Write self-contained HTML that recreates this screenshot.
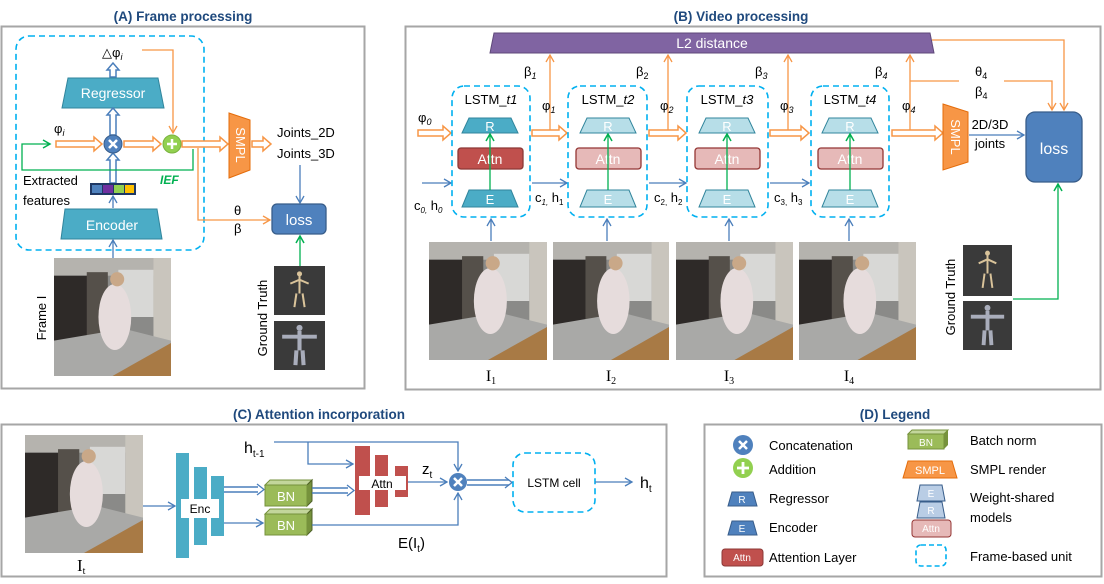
<!DOCTYPE html>
<html><head><meta charset="utf-8"><style>
html,body{margin:0;padding:0;background:#fff;}
svg{display:block;font-family:"Liberation Sans",sans-serif;}
.t{font-size:13px;fill:#000;}
.ti{font-size:13.5px;font-weight:bold;fill:#1f497d;text-anchor:middle;}
.w{fill:#fff;text-anchor:middle;}
</style></head><body>
<svg width="1104" height="584" viewBox="0 0 1104 584" xmlns="http://www.w3.org/2000/svg">
<defs>
<marker id="mb" markerWidth="10" markerHeight="10" refX="8" refY="5" orient="auto" markerUnits="userSpaceOnUse"><path d="M1,1 L8,5 L1,9" fill="none" stroke="#4a7ebb" stroke-width="1.3"/></marker>
<marker id="mo" markerWidth="10" markerHeight="10" refX="8" refY="5" orient="auto" markerUnits="userSpaceOnUse"><path d="M1,1 L8,5 L1,9" fill="none" stroke="#f79646" stroke-width="1.3"/></marker>
<marker id="mg" markerWidth="10" markerHeight="10" refX="8" refY="5" orient="auto" markerUnits="userSpaceOnUse"><path d="M1,1 L8,5 L1,9" fill="none" stroke="#00b050" stroke-width="1.5"/></marker>
<symbol id="img" viewBox="0 0 100 100" preserveAspectRatio="none">
<rect width="100" height="100" fill="#8a8a88"/>
<rect x="0" y="0" width="100" height="15" fill="#b5b3ae"/>
<rect x="0" y="15" width="30" height="55" fill="#2e2a28"/>
<rect x="28" y="12" width="18" height="60" fill="#55504a"/>
<rect x="55" y="10" width="30" height="40" fill="#d8d8d6"/>
<rect x="85" y="0" width="15" height="75" fill="#c9c5bd"/>
<polygon points="0,70 60,60 100,70 100,100 0,100" fill="#a9a9a7"/>
<polygon points="50,100 100,72 100,100" fill="#a87a45"/>
<ellipse cx="52" cy="50" rx="14" ry="28" fill="#e6dcdc"/>
<circle cx="54" cy="18" r="6" fill="#c9a888"/>
</symbol>
<symbol id="gt1" viewBox="0 0 50 50" preserveAspectRatio="none">
<rect width="50" height="50" fill="#3a3a3a"/>
<path d="M25,10 L25,28 M16,18 L25,14 L34,18 M22,28 L20,42 M28,28 L30,42" stroke="#d9c39a" stroke-width="2" fill="none"/>
<circle cx="25" cy="8" r="2.5" fill="#d9c39a"/>
</symbol>
<symbol id="gt2" viewBox="0 0 50 50" preserveAspectRatio="none">
<rect width="50" height="50" fill="#3a3a3a"/>
<path d="M25,10 L25,30 M8,16 L42,16 M22,30 L21,45 M28,30 L29,45" stroke="#a9adbb" stroke-width="4" fill="none"/>
<circle cx="25" cy="7" r="3" fill="#a9adbb"/>
</symbol>
</defs>

<!-- Titles -->
<text class="ti" x="183" y="21">(A) Frame processing</text>
<text class="ti" x="741" y="21">(B) Video processing</text>
<text class="ti" x="319" y="419">(C) Attention incorporation</text>
<text class="ti" x="895" y="419">(D) Legend</text>

<!-- Panel borders -->
<rect x="1.5" y="26.5" width="363" height="362" fill="none" stroke="#a6a6a6" stroke-width="2"/>
<rect x="405.5" y="26.5" width="695" height="363" fill="none" stroke="#a6a6a6" stroke-width="2"/>
<rect x="1.5" y="424.5" width="665" height="152" fill="none" stroke="#a6a6a6" stroke-width="2"/>
<rect x="704.5" y="424.5" width="397" height="152" fill="none" stroke="#a6a6a6" stroke-width="2"/>

<!-- ===== Panel A ===== -->
<rect x="16" y="36" width="188" height="214" rx="13" fill="none" stroke="#00b0f0" stroke-width="1.6" stroke-dasharray="6,4"/>
<text class="t" x="102" y="57" font-size="14">△φ<tspan font-size="9" font-style="italic" dy="3">i</tspan></text>
<path d="M110,77 L110,70 L107,70 L113,63 L119,70 L116,70 L116,77 Z" fill="#fff" stroke="#4a7ebb" stroke-width="1.5"/>
<polygon points="68,78 158,78 164,108 62,108" fill="#4bacc6" stroke="#31859c"/>
<text class="w" x="113" y="98" font-size="14">Regressor</text>
<path d="M110,135 L110,115 L107,115 L113,108 L119,115 L116,115 L116,135 Z" fill="#fff" stroke="#4a7ebb" stroke-width="1.5"/>
<path d="M110,183 L110,160 L107,160 L113,153 L119,160 L116,160 L116,183 Z" fill="#fff" stroke="#4a7ebb" stroke-width="1.5"/>
<text class="t" x="54" y="133" font-size="14">φ<tspan font-size="9" font-style="italic" dy="3">i</tspan></text>
<!-- orange hollow arrows -->
<path d="M56,141 L94,141 L94,137 L102,144 L94,151 L94,147 L56,147 Z" fill="#fff" stroke="#f79646" stroke-width="1.5"/>
<path d="M124,141 L153,141 L153,137 L161,144 L153,151 L153,147 L124,147 Z" fill="#fff" stroke="#f79646" stroke-width="1.5"/>
<path d="M182,141 L220,141 L220,137 L228,144 L220,151 L220,147 L182,147 Z" fill="#fff" stroke="#f79646" stroke-width="1.5"/>
<path d="M252,141 L263,141 L263,137 L271,144 L263,151 L263,147 L252,147 Z" fill="#fff" stroke="#f79646" stroke-width="1.5"/>
<!-- orange delta line -->
<path d="M142,50 L173,50 L173,133" fill="none" stroke="#f79646" stroke-width="1.3" marker-end="url(#mo)"/>
<!-- circles -->
<circle cx="113" cy="144" r="9" fill="#4f81bd" stroke="#385d8a"/>
<path d="M109,140 L117,148 M117,140 L109,148" stroke="#fff" stroke-width="2.5"/>
<circle cx="172" cy="144" r="9" fill="#92d050" stroke="#7ab33f"/>
<path d="M167,144 L177,144 M172,139 L172,149" stroke="#fff" stroke-width="2.5"/>
<!-- green IEF -->
<path d="M193,149 L193,170 L22,170 L22,144 L50,144" fill="none" stroke="#00b050" stroke-width="1.3" marker-end="url(#mg)"/>
<text x="160" y="184" font-size="12" font-weight="bold" font-style="italic" fill="#00b050">IEF</text>
<!-- θβ orange line -->
<path d="M198,148 L198,220 L270,220" fill="none" stroke="#f79646" stroke-width="1.3" marker-end="url(#mo)"/>
<text class="t" x="234" y="215">θ</text>
<text class="t" x="234" y="233">β</text>
<text class="t" x="23" y="185" font-size="14">Extracted</text>
<text class="t" x="23" y="205" font-size="14">features</text>
<rect x="90" y="183" width="46" height="12" fill="#1f3864"/>
<rect x="92" y="185" width="10" height="8" fill="#4f81bd"/>
<rect x="103" y="185" width="10" height="8" fill="#7030a0"/>
<rect x="114" y="185" width="10" height="8" fill="#92d050"/>
<rect x="125" y="185" width="9" height="8" fill="#ffc000"/>
<line x1="113" y1="208" x2="113" y2="196" stroke="#4a7ebb" stroke-width="1.3" marker-end="url(#mb)"/>
<polygon points="65,209 157,209 162,239 61,239" fill="#4bacc6" stroke="#31859c"/>
<text class="w" x="112" y="230" font-size="14">Encoder</text>
<line x1="113" y1="258" x2="113" y2="240" stroke="#4a7ebb" stroke-width="1.3" marker-end="url(#mb)"/>
<use href="#img" x="54" y="258" width="117" height="118"/>
<text class="t" x="46" y="318" font-size="14" transform="rotate(-90 46 318)" text-anchor="middle">Frame I</text>
<!-- SMPL -->
<polygon points="229,113 250,120 250,170 229,178" fill="#f79646" stroke="#e46c0a"/>
<text class="w" x="240" y="145" font-size="13" transform="rotate(90 240 145)" dy="4">SMPL</text>
<text class="t" x="277" y="137" font-size="14">Joints_2D</text>
<text class="t" x="277" y="158" font-size="14">Joints_3D</text>
<line x1="300" y1="165" x2="300" y2="203" stroke="#4a7ebb" stroke-width="1.3" marker-end="url(#mb)"/>
<rect x="272" y="204" width="54" height="30" rx="5" fill="#4f81bd" stroke="#385d8a" stroke-width="1.3"/>
<text class="w" x="299" y="225" font-size="15">loss</text>
<line x1="300" y1="266" x2="300" y2="236" stroke="#00b050" stroke-width="1.3" marker-end="url(#mg)"/>
<use href="#gt1" x="274" y="266" width="51" height="49"/>
<use href="#gt2" x="274" y="321" width="51" height="49"/>
<text class="t" x="267" y="318" font-size="14" transform="rotate(-90 267 318)" text-anchor="middle">Ground Truth</text>

<!-- ===== Panel B ===== -->
<polygon points="494,33 930,33 934,53 490,53" fill="#8064a2" stroke="#5f497a"/>
<text class="w" x="712" y="48" font-size="14">L2 distance</text>
<!-- orange vertical to L2 -->
<line x1="550" y1="133" x2="550" y2="55" stroke="#f79646" stroke-width="1.3" marker-end="url(#mo)"/>
<line x1="668" y1="133" x2="668" y2="55" stroke="#f79646" stroke-width="1.3" marker-end="url(#mo)"/>
<line x1="788" y1="133" x2="788" y2="55" stroke="#f79646" stroke-width="1.3" marker-end="url(#mo)"/>
<line x1="910" y1="133" x2="910" y2="55" stroke="#f79646" stroke-width="1.3" marker-end="url(#mo)"/>
<text class="t" x="524" y="76" font-size="14">β<tspan font-size="9" font-style="italic" dy="3">1</tspan></text>
<text class="t" x="636" y="76" font-size="14">β<tspan font-size="9" dy="3">2</tspan></text>
<text class="t" x="755" y="76" font-size="14">β<tspan font-size="9" font-style="italic" dy="3">3</tspan></text>
<text class="t" x="875" y="76" font-size="14">β<tspan font-size="9" font-style="italic" dy="3">4</tspan></text>
<text class="t" x="542" y="110" font-size="14">φ<tspan font-size="9" font-style="italic" dy="3">1</tspan></text>
<text class="t" x="660" y="110" font-size="14">φ<tspan font-size="9" font-style="italic" dy="3">2</tspan></text>
<text class="t" x="780" y="110" font-size="14">φ<tspan font-size="9" font-style="italic" dy="3">3</tspan></text>
<text class="t" x="902" y="110" font-size="14">φ<tspan font-size="9" font-style="italic" dy="3">4</tspan></text>
<text class="t" x="418" y="122" font-size="14">φ<tspan font-size="9" font-style="italic" dy="3">0</tspan></text>
<path d="M910,81 L959,81 M1004,81 L1052,81 L1052,110" fill="none" stroke="#f79646" stroke-width="1.3" marker-end="url(#mo)"/>
<path d="M932,40 L1064,40 L1064,110" fill="none" stroke="#f79646" stroke-width="1.3" marker-end="url(#mo)"/>
<text class="t" x="975" y="76" font-size="14">θ<tspan font-size="9" dy="3">4</tspan></text>
<text class="t" x="975" y="96" font-size="14">β<tspan font-size="9" dy="3">4</tspan></text>
<!-- orange hollow arrows -->
<path d="M418,130 L443,130 L443,126 L451,133 L443,140 L443,136 L418,136 Z" fill="#fff" stroke="#f79646" stroke-width="1.5"/>
<path d="M532,130 L559,130 L559,126 L567,133 L559,140 L559,136 L532,136 Z" fill="#fff" stroke="#f79646" stroke-width="1.5"/>
<path d="M649,130 L678,130 L678,126 L686,133 L678,140 L678,136 L649,136 Z" fill="#fff" stroke="#f79646" stroke-width="1.5"/>
<path d="M770,130 L801,130 L801,126 L809,133 L801,140 L801,136 L770,136 Z" fill="#fff" stroke="#f79646" stroke-width="1.5"/>
<path d="M892,130 L935,130 L935,126 L943,133 L935,140 L935,136 L892,136 Z" fill="#fff" stroke="#f79646" stroke-width="1.5"/>
<!-- blue c,h arrows -->
<line x1="422" y1="183" x2="451" y2="183" stroke="#4a7ebb" stroke-width="1.3" marker-end="url(#mb)"/>
<line x1="532" y1="183" x2="567" y2="183" stroke="#4a7ebb" stroke-width="1.3" marker-end="url(#mb)"/>
<line x1="649" y1="183" x2="686" y2="183" stroke="#4a7ebb" stroke-width="1.3" marker-end="url(#mb)"/>
<line x1="770" y1="183" x2="809" y2="183" stroke="#4a7ebb" stroke-width="1.3" marker-end="url(#mb)"/>
<text class="t" x="414" y="210" font-size="12">c<tspan font-size="8" font-style="italic" dy="3">0,</tspan><tspan dy="-3"> h</tspan><tspan font-size="8" font-style="italic" dy="3">0</tspan></text>
<text class="t" x="535" y="202" font-size="12">c<tspan font-size="8" font-style="italic" dy="3">1,</tspan><tspan dy="-3"> h</tspan><tspan font-size="8" dy="3">1</tspan></text>
<text class="t" x="654" y="202" font-size="12">c<tspan font-size="8" dy="3">2,</tspan><tspan dy="-3"> h</tspan><tspan font-size="8" dy="3">2</tspan></text>
<text class="t" x="774" y="202" font-size="12">c<tspan font-size="8" dy="3">3,</tspan><tspan dy="-3"> h</tspan><tspan font-size="8" dy="3">3</tspan></text>
<!-- LSTM columns -->
<g>
<rect x="452" y="86" width="78" height="131" rx="12" fill="none" stroke="#00b0f0" stroke-width="1.6" stroke-dasharray="6,4"/>
<text class="t" x="491" y="104" text-anchor="middle" font-size="12">LSTM_<tspan font-style="italic">t1</tspan></text>
<polygon points="469,118 511,118 518,133 462,133" fill="#4bacc6" stroke="#31859c"/>
<text class="w" x="490" y="131" font-size="13">R</text>
<rect x="458" y="148" width="65" height="21" rx="3" fill="#c0504d" stroke="#8c3836" stroke-width="1.3"/>
<text class="w" x="490" y="164" font-size="14">Attn</text>
<polygon points="469,190 511,190 518,207 462,207" fill="#4bacc6" stroke="#31859c"/>
<text class="w" x="490" y="204" font-size="13">E</text>
<line x1="490" y1="190" x2="490" y2="134" stroke="#00b050" stroke-width="1.3" marker-end="url(#mg)"/>
</g>
<g>
<rect x="568" y="86" width="79" height="131" rx="12" fill="none" stroke="#00b0f0" stroke-width="1.6" stroke-dasharray="6,4"/>
<text class="t" x="608" y="104" text-anchor="middle" font-size="12">LSTM_<tspan font-style="italic">t2</tspan></text>
<polygon points="587,118 629,118 636,133 580,133" fill="#b7dee8" stroke="#31859c"/>
<text class="w" x="608" y="131" font-size="13">R</text>
<rect x="576" y="148" width="65" height="21" rx="3" fill="#e6b9b8" stroke="#943634" stroke-width="1.3"/>
<text class="w" x="608" y="164" font-size="14">Attn</text>
<polygon points="587,190 629,190 636,207 580,207" fill="#b7dee8" stroke="#31859c"/>
<text class="w" x="608" y="204" font-size="13">E</text>
<line x1="608" y1="190" x2="608" y2="134" stroke="#00b050" stroke-width="1.3" marker-end="url(#mg)"/>
</g>
<g>
<rect x="687" y="86" width="81" height="131" rx="12" fill="none" stroke="#00b0f0" stroke-width="1.6" stroke-dasharray="6,4"/>
<text class="t" x="727" y="104" text-anchor="middle" font-size="12">LSTM_<tspan font-style="italic">t3</tspan></text>
<polygon points="706,118 748,118 755,133 699,133" fill="#b7dee8" stroke="#31859c"/>
<text class="w" x="727" y="131" font-size="13">R</text>
<rect x="695" y="148" width="65" height="21" rx="3" fill="#e6b9b8" stroke="#943634" stroke-width="1.3"/>
<text class="w" x="727" y="164" font-size="14">Attn</text>
<polygon points="706,190 748,190 755,207 699,207" fill="#b7dee8" stroke="#31859c"/>
<text class="w" x="727" y="204" font-size="13">E</text>
<line x1="727" y1="190" x2="727" y2="134" stroke="#00b050" stroke-width="1.3" marker-end="url(#mg)"/>
</g>
<g>
<rect x="811" y="86" width="78" height="131" rx="12" fill="none" stroke="#00b0f0" stroke-width="1.6" stroke-dasharray="6,4"/>
<text class="t" x="850" y="104" text-anchor="middle" font-size="12">LSTM_<tspan font-style="italic">t4</tspan></text>
<polygon points="829,118 871,118 878,133 822,133" fill="#b7dee8" stroke="#31859c"/>
<text class="w" x="850" y="131" font-size="13">R</text>
<rect x="818" y="148" width="65" height="21" rx="3" fill="#e6b9b8" stroke="#943634" stroke-width="1.3"/>
<text class="w" x="850" y="164" font-size="14">Attn</text>
<polygon points="829,190 871,190 878,207 822,207" fill="#b7dee8" stroke="#31859c"/>
<text class="w" x="850" y="204" font-size="13">E</text>
<line x1="850" y1="190" x2="850" y2="134" stroke="#00b050" stroke-width="1.3" marker-end="url(#mg)"/>
</g>
<!-- up arrows from images -->
<line x1="491" y1="241" x2="491" y2="219" stroke="#4a7ebb" stroke-width="1.3" marker-end="url(#mb)"/>
<line x1="607" y1="241" x2="607" y2="219" stroke="#4a7ebb" stroke-width="1.3" marker-end="url(#mb)"/>
<line x1="729" y1="241" x2="729" y2="219" stroke="#4a7ebb" stroke-width="1.3" marker-end="url(#mb)"/>
<line x1="849" y1="241" x2="849" y2="219" stroke="#4a7ebb" stroke-width="1.3" marker-end="url(#mb)"/>
<!-- SMPL B -->
<polygon points="943,104 968,112 968,162 943,170" fill="#f79646" stroke="#e46c0a"/>
<text class="w" x="955" y="137" font-size="13" transform="rotate(90 955 137)" dy="4">SMPL</text>
<text class="t" x="990" y="129" text-anchor="middle" font-size="14">2D/3D</text>
<text class="t" x="990" y="148" text-anchor="middle" font-size="14">joints</text>
<line x1="969" y1="135" x2="1024" y2="135" stroke="#4a7ebb" stroke-width="1.3" marker-end="url(#mb)"/>
<rect x="1026" y="112" width="56" height="70" rx="9" fill="#4f81bd" stroke="#385d8a" stroke-width="1.3"/>
<text class="w" x="1054" y="154" font-size="16">loss</text>
<path d="M1013,299 L1058,299 L1058,184" fill="none" stroke="#00b050" stroke-width="1.3" marker-end="url(#mg)"/>
<!-- images B -->
<use href="#img" x="429" y="242" width="118" height="118"/>
<use href="#img" x="553" y="242" width="116" height="118"/>
<use href="#img" x="676" y="242" width="117" height="118"/>
<use href="#img" x="799" y="242" width="117" height="118"/>
<text x="491" y="381" font-family="Liberation Serif,serif" font-size="16" text-anchor="middle">I<tspan font-size="10" dy="3">1</tspan></text>
<text x="611" y="381" font-family="Liberation Serif,serif" font-size="16" text-anchor="middle">I<tspan font-size="10" dy="3">2</tspan></text>
<text x="729" y="381" font-family="Liberation Serif,serif" font-size="16" text-anchor="middle">I<tspan font-size="10" dy="3">3</tspan></text>
<text x="849" y="381" font-family="Liberation Serif,serif" font-size="16" text-anchor="middle">I<tspan font-size="10" dy="3">4</tspan></text>
<use href="#gt1" x="963" y="245" width="49" height="51"/>
<use href="#gt2" x="963" y="301" width="49" height="49"/>
<text class="t" x="955" y="297" font-size="14" transform="rotate(-90 955 297)" text-anchor="middle">Ground Truth</text>

<!-- ===== Panel C ===== -->
<use href="#img" x="25" y="435" width="118" height="118"/>
<text x="77" y="571" font-family="Liberation Serif,serif" font-size="17">I<tspan font-size="10" dy="3">t</tspan></text>
<line x1="143" y1="506" x2="175" y2="506" stroke="#4a7ebb" stroke-width="1.3" marker-end="url(#mb)"/>
<rect x="176" y="453" width="13" height="105" fill="#4bacc6"/>
<rect x="194" y="467" width="13" height="78" fill="#4bacc6"/>
<rect x="211" y="476" width="13" height="60" fill="#4bacc6"/>
<rect x="181" y="499" width="38" height="19" fill="#fff"/>
<text x="200" y="513" font-size="12" text-anchor="middle">Enc</text>
<path d="M224,487 L258,487 M224,492 L258,492" stroke="#4a7ebb" stroke-width="1.5"/>
<path d="M257,484 L264,489.5 L257,495" fill="none" stroke="#4a7ebb" stroke-width="1.3"/>
<line x1="224" y1="523" x2="263" y2="523" stroke="#4a7ebb" stroke-width="1.3" marker-end="url(#mb)"/>
<!-- BN boxes -->
<g>
<polygon points="265,485 270,480 312,480 307,485" fill="#c3d69b" stroke="#76923c"/>
<polygon points="307,485 312,480 312,501 307,506" fill="#76923c" stroke="#4f6228"/>
<rect x="265" y="485" width="42" height="21" fill="#9bbb59" stroke="#76923c"/>
<text class="w" x="286" y="501" font-size="13">BN</text>
</g>
<g>
<polygon points="265,514 270,509 312,509 307,514" fill="#c3d69b" stroke="#76923c"/>
<polygon points="307,514 312,509 312,530 307,535" fill="#76923c" stroke="#4f6228"/>
<rect x="265" y="514" width="42" height="21" fill="#9bbb59" stroke="#76923c"/>
<text class="w" x="286" y="530" font-size="13">BN</text>
</g>
<path d="M312,488 L348,488 M312,493 L348,493" stroke="#4a7ebb" stroke-width="1.5"/>
<path d="M347,485 L354,490.5 L347,496" fill="none" stroke="#4a7ebb" stroke-width="1.3"/>
<!-- Attn bars -->
<rect x="355" y="446" width="15" height="69" fill="#c0504d"/>
<rect x="375" y="455" width="13" height="52" fill="#c0504d"/>
<rect x="395" y="466" width="13" height="31" fill="#c0504d"/>
<rect x="359" y="476" width="47" height="14" fill="#fff"/>
<text x="382" y="488" font-size="12" text-anchor="middle">Attn</text>
<text x="244" y="453" font-size="16">h<tspan font-size="10" dy="4">t-1</tspan></text>
<path d="M274,442 L458,442 L458,471" fill="none" stroke="#4a7ebb" stroke-width="1.3" marker-end="url(#mb)"/>
<path d="M308,442 L308,464 L353,464" fill="none" stroke="#4a7ebb" stroke-width="1.3" marker-end="url(#mb)"/>
<text x="422" y="474" font-size="15">z<tspan font-size="10" dy="4">t</tspan></text>
<line x1="408" y1="482" x2="447" y2="482" stroke="#4a7ebb" stroke-width="1.3" marker-end="url(#mb)"/>
<path d="M312,525 L458,525 L458,493" fill="none" stroke="#4a7ebb" stroke-width="1.3" marker-end="url(#mb)"/>
<circle cx="458" cy="482" r="9" fill="#4f81bd"/>
<path d="M454,478 L462,486 M462,478 L454,486" stroke="#fff" stroke-width="2.5"/>
<text x="398" y="548" font-size="15">E(I<tspan font-size="10" dy="4">t</tspan><tspan dy="-4">)</tspan></text>
<path d="M467,480 L509,480 M467,485 L509,485" stroke="#4a7ebb" stroke-width="1.5"/>
<path d="M505,477 L512,482.5 L505,488" fill="none" stroke="#4a7ebb" stroke-width="1.3"/>
<rect x="513" y="453" width="82" height="59" rx="12" fill="none" stroke="#00b0f0" stroke-width="1.6" stroke-dasharray="6,4"/>
<text x="554" y="487" font-size="12" text-anchor="middle">LSTM cell</text>
<line x1="595" y1="482" x2="632" y2="482" stroke="#4a7ebb" stroke-width="1.3" marker-end="url(#mb)"/>
<text x="640" y="488" font-size="16">h<tspan font-size="10" dy="4">t</tspan></text>

<!-- ===== Panel D ===== -->
<circle cx="743" cy="445" r="10" fill="#4f81bd"/>
<path d="M739,441 L747,449 M747,441 L739,449" stroke="#fff" stroke-width="2.5"/>
<circle cx="743" cy="468" r="10" fill="#92d050"/>
<path d="M737,468 L749,468 M743,462 L743,474" stroke="#fff" stroke-width="2.8"/>
<polygon points="732,492 753,492 757,506 728,506" fill="#4f81bd" stroke="#385d8a"/>
<text class="w" x="742" y="503" font-size="10">R</text>
<polygon points="732,521 753,521 757,535 728,535" fill="#4f81bd" stroke="#385d8a"/>
<text class="w" x="742" y="532" font-size="10">E</text>
<rect x="722" y="549" width="41" height="17" rx="3" fill="#c0504d" stroke="#8c3836"/>
<text class="w" x="742" y="561" font-size="10">Attn</text>
<text class="t" x="769" y="450" font-size="14">Concatenation</text>
<text class="t" x="769" y="474" font-size="14">Addition</text>
<text class="t" x="769" y="503" font-size="14">Regressor</text>
<text class="t" x="769" y="532" font-size="14">Encoder</text>
<text class="t" x="769" y="562" font-size="14">Attention Layer</text>
<polygon points="908,434 912,430 948,430 944,434" fill="#c3d69b" stroke="#76923c"/>
<polygon points="944,434 948,430 948,445 944,449" fill="#76923c"/>
<rect x="908" y="434" width="36" height="15" fill="#9bbb59" stroke="#76923c"/>
<text class="w" x="926" y="446" font-size="10">BN</text>
<polygon points="908,461 952,461 957,478 903,478" fill="#f79646" stroke="#e46c0a"/>
<text class="w" x="930" y="474" font-size="11">SMPL</text>
<polygon points="920,485 942,485 945,501 917,501" fill="#b9cde5" stroke="#385d8a"/>
<text class="w" x="931" y="497" font-size="10">E</text>
<polygon points="920,502 942,502 945,518 917,518" fill="#b9cde5" stroke="#385d8a"/>
<text class="w" x="931" y="514" font-size="10">R</text>
<rect x="912" y="520" width="39" height="17" rx="3" fill="#e6b9b8" stroke="#943634"/>
<text class="w" x="931" y="532" font-size="10">Attn</text>
<rect x="916" y="545" width="30" height="21" rx="5" fill="none" stroke="#00b0f0" stroke-width="1.6" stroke-dasharray="5,3"/>
<text class="t" x="970" y="445" font-size="14">Batch norm</text>
<text class="t" x="970" y="474" font-size="14">SMPL render</text>
<text class="t" x="970" y="502" font-size="14">Weight-shared</text>
<text class="t" x="970" y="522" font-size="14">models</text>
<text class="t" x="970" y="561" font-size="14">Frame-based unit</text>
</svg>
</body></html>
